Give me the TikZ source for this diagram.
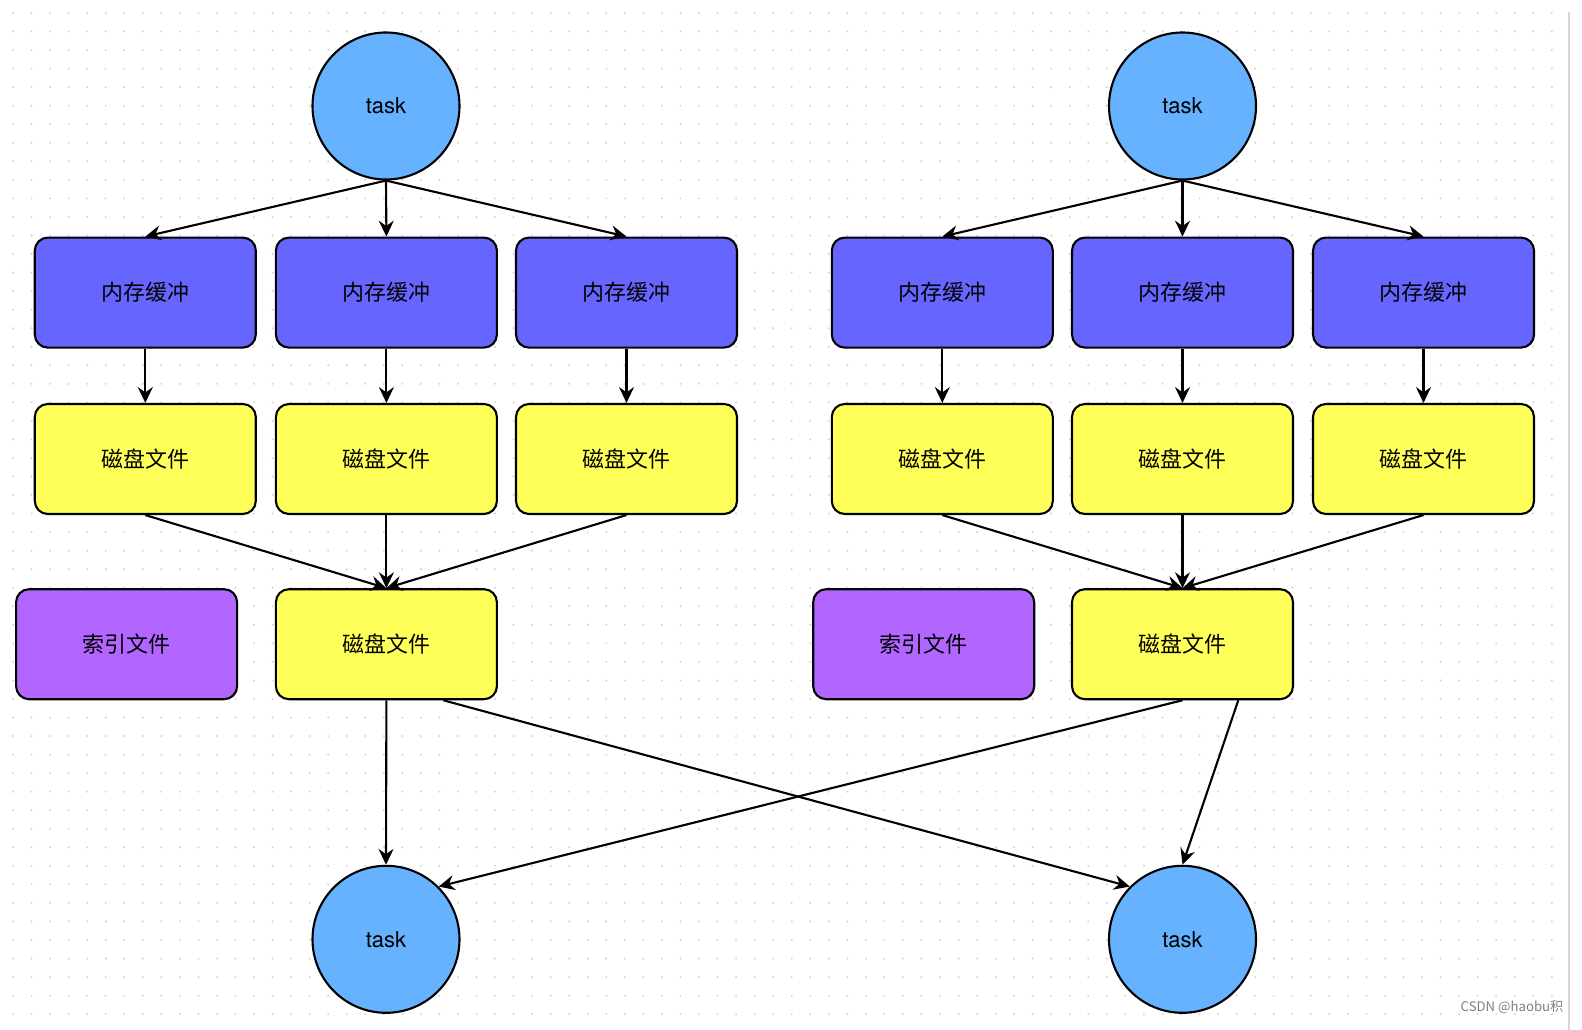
\documentclass[tikz,border=0pt]{standalone}
\usepackage{fontspec}
\setmainfont{TeX Gyre Heros}
\newfontfamily\cjk{Noto Sans CJK SC}
\usetikzlibrary{arrows.meta,calc,positioning}

\newlength{\du}
\setlength{\du}{0.02cm}

\definecolor{taskblue}{RGB}{102,178,255}
\definecolor{bufblue}{RGB}{102,102,255}
\definecolor{diskyellow}{RGB}{255,255,90}
\definecolor{idxpurple}{RGB}{178,102,255}
\definecolor{griddot}{RGB}{210,210,210}

\tikzset{
  task/.style={circle, draw=black, line width=1.2pt, fill=taskblue,
    minimum size=147\du, inner sep=0pt, font=\fontsize{12.5}{15}\selectfont},
  box/.style={rectangle, rounded corners=13\du, draw=black, line width=1.2pt,
    minimum width=221\du, minimum height=110\du, inner sep=0pt,
    font=\fontsize{12.5}{15}\selectfont\cjk},
  buffer/.style={box, fill=bufblue},
  disk/.style={box, fill=diskyellow},
  index/.style={box, fill=idxpurple},
  flow/.style={-{Stealth[length=9pt,width=8.5pt,inset=3pt]}, line width=1.2pt},
}

\begin{document}
\begin{tikzpicture}
\pgftransformxscale{1.000000}
\pgftransformyscale{-1.000000}
\useasboundingbox (0,0) rectangle (1582\du,1030\du);
\fill[white] (0,0) rectangle (1582\du,1030\du);

% background grid
\foreach \i in {0,...,83}{
  \foreach \j in {0,...,54}{
    \fill[griddot] (13\du+\i*18.54\du,13\du+\j*18.54\du) circle (1.1\du);
  }
}
\draw[line width=2\du, color={rgb,255:red,215;green,215;blue,215}] (1569\du,12\du)--(1569\du,1030\du);

% left group
\node[task] (t1) at (386\du,106\du) {task};
\node[buffer] (b11) at (145.3\du,292.6\du) {内存缓冲};
\node[buffer] (b12) at (386.4\du,292.6\du) {内存缓冲};
\node[buffer] (b13) at (626.5\du,292.6\du) {内存缓冲};
\node[disk] (d11) at (145.3\du,459\du) {磁盘文件};
\node[disk] (d12) at (386.4\du,459\du) {磁盘文件};
\node[disk] (d13) at (626.5\du,459\du) {磁盘文件};
\node[index] (i1) at (126.6\du,644.2\du) {索引文件};
\node[disk] (m1) at (386.4\du,644.2\du) {磁盘文件};

% right group
\node[task] (t2) at (1182.5\du,106\du) {task};
\node[buffer] (b21) at (942.3\du,292.6\du) {内存缓冲};
\node[buffer] (b22) at (1182.5\du,292.6\du) {内存缓冲};
\node[buffer] (b23) at (1423.5\du,292.6\du) {内存缓冲};
\node[disk] (d21) at (942.3\du,459\du) {磁盘文件};
\node[disk] (d22) at (1182.5\du,459\du) {磁盘文件};
\node[disk] (d23) at (1423.5\du,459\du) {磁盘文件};
\node[index] (i2) at (923.7\du,644.2\du) {索引文件};
\node[disk] (m2) at (1182.5\du,644.2\du) {磁盘文件};

% readers
\node[task] (r1) at (386\du,939.3\du) {task};
\node[task] (r2) at (1182.5\du,939.3\du) {task};

\foreach \g in {1,2}{
  \foreach \k in {1,2,3}{
    \draw[flow] (t\g.south) -- (b\g\k.north);
    \draw[flow] (b\g\k.south) -- (d\g\k.north);
    \draw[flow] (d\g\k.south) -- (m\g.north);
  }
}

\draw[flow] (m1.south) -- (r1.north);
\draw[flow] ($(m1.south west)!0.755!(m1.south east)$) -- (r2.135);
\draw[flow] (m2.south) -- (r1.45);
\draw[flow] ($(m2.south west)!0.75!(m2.south east)$) -- (r2.north);

\node[text=gray, font=\fontsize{7.5}{9}\selectfont\cjk] (mark) at (1512\du,1007\du) {CSDN @haobu积};
\end{tikzpicture}
\end{document}
